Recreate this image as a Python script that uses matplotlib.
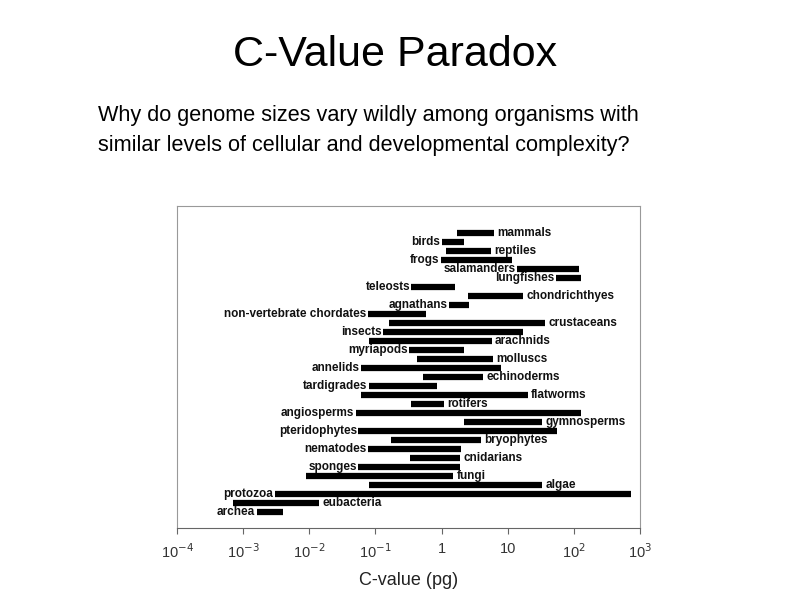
import matplotlib
matplotlib.use("Agg")
import matplotlib.pyplot as plt

groups = ["mammals","birds","reptiles","frogs","salamanders","lungfishes","teleosts",
          "chondrichthyes","agnathans","non-vertebrate chordates","crustaceans","insects",
          "arachnids","myriapods","molluscs","annelids","echinoderms","tardigrades",
          "flatworms","rotifers","angiosperms","gymnosperms","pteridophytes","bryophytes",
          "nematodes","cnidarians","sponges","fungi","algae","protozoa","eubacteria","archea"]
low  = [1.7,1.0,1.15,0.97,14,53,0.35,2.5,1.3,0.076,0.16,0.13,0.08,0.32,0.43,0.06,0.53,
        0.08,0.06,0.35,0.05,2.2,0.055,0.17,0.076,0.33,0.055,0.009,0.08,0.003,0.0007,0.0016]
high = [6.2,2.2,5.5,11.5,120,127,1.6,17,2.6,0.59,37,17,5.7,2.2,5.9,7.8,4.3,0.84,20,1.07,
        127,33,55,4,2,1.9,1.9,1.5,33,730,0.014,0.004]
left_label = {"birds","frogs","salamanders","lungfishes","teleosts","agnathans",
              "non-vertebrate chordates","insects","myriapods","annelids","tardigrades",
              "angiosperms","pteridophytes","nematodes","sponges","protozoa","archea"}
xticks = [1e-4,1e-3,1e-2,1e-1,1,10,1e2,1e3]
xticklabels = ["10$^{-4}$","10$^{-3}$","10$^{-2}$","10$^{-1}$","1","10","10$^{2}$","10$^{3}$"]

W, H = 794, 595
fig = plt.figure(figsize=(W/100, H/100), dpi=100)
fig.text(395/W, 1-55/H, "C-Value Paradox", ha="center", va="center", fontsize=31, family="Liberation Sans")
fig.text(98/W, 1-116/H, "Why do genome sizes vary wildly among organisms with", ha="left", va="center", fontsize=15.6, family="Liberation Sans")
fig.text(98/W, 1-146/H, "similar levels of cellular and developmental complexity?", ha="left", va="center", fontsize=15.6, family="Liberation Sans")

ax = fig.add_axes([177/W, 1-528/H, (640-177)/W, (528-206)/H])
ax.set_xscale("log")
ax.set_xlim(1e-4, 1e3)
n = len(groups)
ys = list(range(n))
ax.set_ylim(n + 0.8, -3.0)
for y, g, lo, hi in zip(ys, groups, low, high):
    ax.plot([lo, hi], [y, y], color="black", lw=4.5, solid_capstyle="butt")
    if g in left_label:
        ax.text(lo / 1.05, y, g, ha="right", va="center", fontsize=8.5, fontweight="bold", family="Liberation Sans", color="#111")
    else:
        ax.text(hi * 1.12, y, g, ha="left", va="center", fontsize=8.5, fontweight="bold", family="Liberation Sans", color="#111")
ax.set_yticks([])
ax.set_xticks(xticks)
ax.set_xticklabels(xticklabels, fontsize=10.5, family="Liberation Sans", color="#333")
ax.minorticks_off()
for s in ["top", "right", "left"]:
    ax.spines[s].set_color("#999")
ax.spines["bottom"].set_color("#666")
ax.tick_params(axis="x", length=4, color="#666", pad=6)
ax.set_xlabel("C-value (pg)", fontsize=13, family="Liberation Sans", labelpad=8, color="#222")
fig.savefig("out.png", dpi=100)
